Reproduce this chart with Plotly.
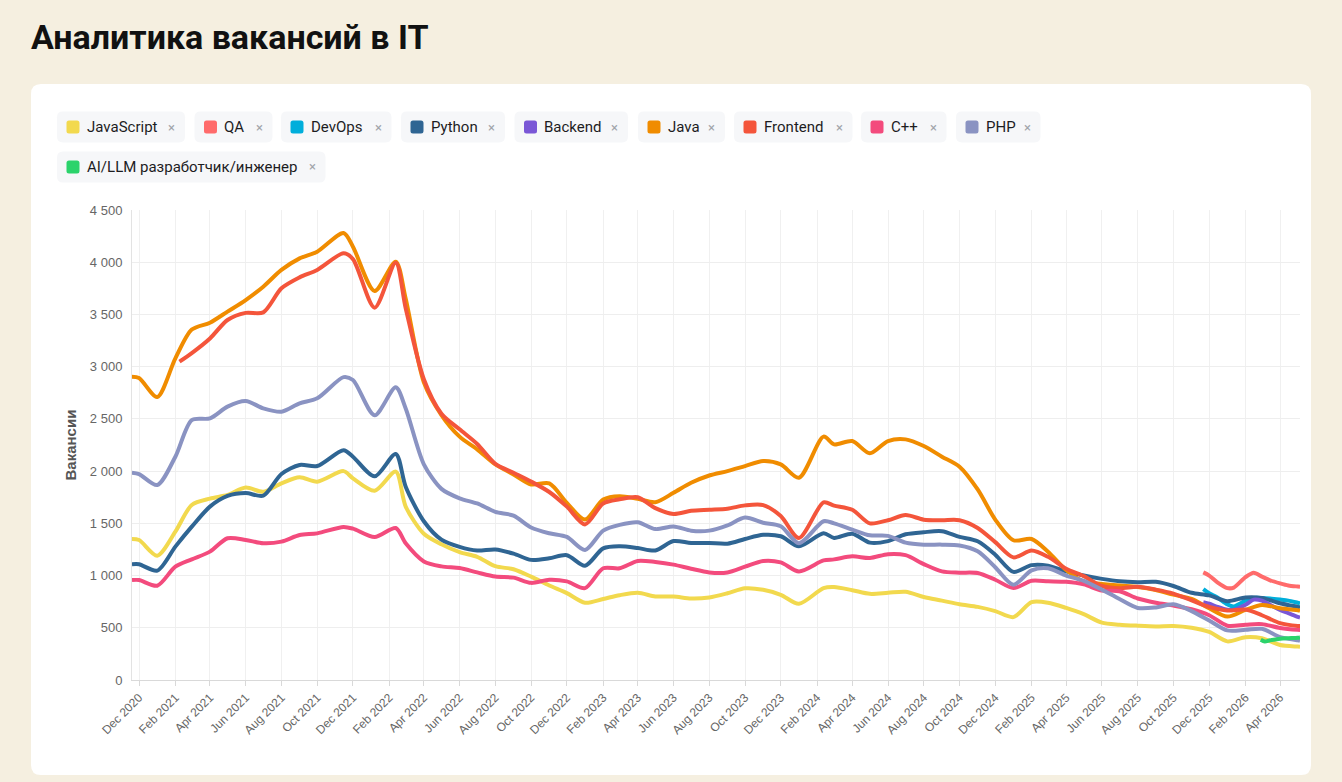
import pandas as pd
import plotly.graph_objects as go

# monthly points (1st of month, a few moved to the peak dates) plus first and last day
moved = {"2021-11-01": "2021-11-15", "2022-01-01": "2022-01-07",
         "2022-02-01": "2022-02-12", "2024-02-01": "2024-02-12"}
DATES = (["2020-11-19"]
         + [moved.get(s, s) for s in
            (d.strftime("%Y-%m-%d") for d in pd.date_range("2020-12-01", "2026-05-01", freq="MS"))]
         + ["2026-05-05"])

javascript = [1350, 1340, 1190, 1420, 1676, 1736, 1771, 1842, 1803, 1883, 1941, 1899, 2000, 1931,
              1812, 1995, 1660, 1400, 1300, 1225, 1180, 1090, 1060, 990, 905, 832, 740, 776, 812,
              835, 800, 800, 780, 790, 830, 878, 864, 816, 730, 880, 890, 860, 825, 835, 845, 795,
              760, 725, 700, 660, 602, 745, 740, 690, 630, 549, 530, 520, 513, 517, 500, 460, 370,
              410, 400, 335, 320, 318]
python = [1108, 1108, 1047, 1277, 1468, 1660, 1762, 1790, 1765, 1972, 2059, 2049, 2200, 2138,
          1950, 2164, 1851, 1520, 1344, 1275, 1240, 1250, 1210, 1150, 1165, 1195, 1094, 1260,
          1280, 1264, 1240, 1330, 1312, 1312, 1305, 1350, 1390, 1376, 1280, 1405, 1360, 1400,
          1315, 1330, 1395, 1415, 1424, 1370, 1328, 1200, 1035, 1100, 1095, 1040, 1000, 968, 945,
          937, 940, 900, 835, 810, 755, 790, 785, 735, 700, 695]
java = [2904, 2892, 2710, 3080, 3355, 3421, 3527, 3638, 3766, 3926, 4037, 4101, 4280, 4149,
        3725, 4005, 3650, 2850, 2537, 2330, 2208, 2064, 1968, 1872, 1882, 1696, 1536, 1728, 1760,
        1734, 1702, 1792, 1888, 1958, 2000, 2048, 2096, 2064, 1936, 2330, 2256, 2288, 2170, 2288,
        2304, 2240, 2138, 2042, 1824, 1536, 1338, 1350, 1229, 1053, 942, 920, 904, 891, 862, 817,
        776, 687, 607, 671, 718, 687, 668, 665]
cpp = [957, 957, 903, 1085, 1155, 1229, 1357, 1341, 1309, 1325, 1388, 1404, 1466, 1449, 1368,
       1455, 1309, 1135, 1088, 1072, 1030, 990, 980, 930, 960, 944, 880, 1070, 1070, 1140, 1130,
       1105, 1065, 1030, 1030, 1085, 1140, 1126, 1040, 1145, 1155, 1184, 1168, 1205, 1195, 1110,
       1040, 1028, 1024, 960, 880, 950, 945, 940, 915, 856, 850, 780, 740, 712, 677, 620, 520, 530,
       535, 498, 480, 479]
php = [1985, 1972, 1867, 2138, 2489, 2505, 2617, 2671, 2601, 2569, 2649, 2697, 2900, 2872, 2535,
       2802, 2600, 2065, 1830, 1740, 1690, 1610, 1574, 1460, 1405, 1370, 1245, 1430, 1485, 1510,
       1445, 1470, 1430, 1430, 1480, 1555, 1505, 1472, 1310, 1520, 1500, 1440, 1385, 1380, 1315,
       1296, 1296, 1288, 1232, 1080, 912, 1050, 1070, 1000, 950, 865, 775, 690, 695, 725, 660, 570,
       475, 480, 490, 410, 380, 377]

# Frontend starts in February 2021
frontend_dates = ["2021-02-08"] + DATES[4:]
frontend = [3048, 3130, 3270, 3447, 3515, 3520, 3750, 3855, 3926, 4085, 4030, 3565, 3995, 3560,
            2880, 2550, 2400, 2260, 2070, 1984, 1900, 1800, 1660, 1490, 1690, 1730, 1750, 1645,
            1590, 1620, 1630, 1640, 1672, 1675, 1570, 1360, 1700, 1670, 1630, 1500, 1530, 1580,
            1535, 1530, 1530, 1456, 1320, 1174, 1240, 1180, 1065, 995, 900, 878, 892, 865, 827,
            762, 700, 666, 675, 620, 545, 518, 517]

# short series, half-monthly points
late_dates = ["2025-11-21", "2025-12-01", "2025-12-15", "2026-01-01", "2026-01-12", "2026-02-01",
              "2026-02-15", "2026-03-01", "2026-03-15", "2026-04-01", "2026-04-15", "2026-05-01",
              "2026-05-05"]
qa = [1030, 1000, 935, 880, 885, 985, 1027, 990, 955, 925, 905, 895, 893]
devops = [870, 830, 790, 725, 705, 760, 785, 785, 780, 770, 760, 740, 735]
backend = [745, 730, 700, 672, 672, 720, 770, 760, 720, 670, 640, 605, 598]

ai_dates = ["2026-02-27", "2026-03-06", "2026-03-15", "2026-04-01", "2026-04-15", "2026-05-01",
            "2026-05-05"]
ai_llm = [385, 368, 380, 395, 400, 405, 408]

series = [
    ("JavaScript", DATES, javascript, "#F2D94E"),
    ("QA", late_dates, qa, "#FF6B6B"),
    ("DevOps", late_dates, devops, "#00AEDB"),
    ("Python", DATES, python, "#2F6593"),
    ("Backend", late_dates, backend, "#7A57D6"),
    ("Java", DATES, java, "#F08C00"),
    ("Frontend", frontend_dates, frontend, "#F4553B"),
    ("C++", DATES, cpp, "#F34B7D"),
    ("PHP", DATES, php, "#8A93C2"),
    ("AI/LLM разработчик/инженер", ai_dates, ai_llm, "#2BD36B"),
]

# pixel geometry of the page
W, H = 1342, 782
L, R, T, B = 132, 1300, 210, 680


def px(x):
    return (x - L) / (R - L)


def py(y):
    return (B - y) / (B - T)


def round_rect(x0, y0, x1, y1, r):
    pts = [
        ("M", x0 + r, y0), ("L", x1 - r, y0), ("Q", x1, y0, x1, y0 + r),
        ("L", x1, y1 - r), ("Q", x1, y1, x1 - r, y1), ("L", x0 + r, y1),
        ("Q", x0, y1, x0, y1 - r), ("L", x0, y0 + r), ("Q", x0, y0, x0 + r, y0),
    ]
    out = []
    for p in pts:
        cmd, vals = p[0], p[1:]
        coords = []
        for i in range(0, len(vals), 2):
            coords.append(f"{px(vals[i]):.5f},{py(vals[i + 1]):.5f}")
        out.append(cmd + " ".join(coords))
    return " ".join(out) + " Z"


fig = go.Figure()
for name, xs, ys, color in series:
    fig.add_trace(go.Scatter(x=xs, y=ys, name=name, mode="lines",
                             line=dict(color=color, width=4, shape="spline", smoothing=0.8)))

shapes = [dict(type="path", xref="paper", yref="paper", layer="below",
               path=round_rect(31, 84, 1311, 775, 10), fillcolor="white", line=dict(width=0))]
annotations = []

# chip legend
chips = [(57, 185, 0), (194.5, 272.5, 0), (281, 391.5, 0), (401, 505, 0), (514.5, 628, 0),
         (638, 725, 0), (734, 852.5, 0), (861, 946.5, 0), (956, 1040.5, 0), (57, 325.5, 1)]
for (name, _, _, color), (c0, c1, row) in zip(series, chips):
    y0 = 111.5 + row * 40
    y1 = y0 + 31
    yc = (y0 + y1) / 2
    shapes.append(dict(type="path", xref="paper", yref="paper", layer="below",
                       path=round_rect(c0, y0, c1, y1, 6), fillcolor="#F6F7F9", line=dict(width=0)))
    shapes.append(dict(type="path", xref="paper", yref="paper",
                       path=round_rect(c0 + 9.5, yc - 6.5, c0 + 22.5, yc + 6.5, 2.5),
                       fillcolor=color, line=dict(width=0)))
    annotations.append(dict(text=name, xref="paper", yref="paper", x=px(c0 + 27.5), y=py(yc),
                            xanchor="left", yanchor="middle", showarrow=False,
                            font=dict(family="Roboto", size=15, color="#1d1d1f")))
    annotations.append(dict(text="×", xref="paper", yref="paper", x=px(c1 - 13.5), y=py(yc),
                            xanchor="center", yanchor="middle", showarrow=False,
                            font=dict(family="Roboto", size=13, color="#a0a4aa")))

annotations.append(dict(text="<b>Аналитика вакансий в IT</b>", xref="paper", yref="paper",
                        x=px(29), y=py(37), xanchor="left", yanchor="middle", showarrow=False,
                        font=dict(family="Roboto", size=34, color="#111111")))
annotations.append(dict(text="<b>Вакансии</b>", xref="paper", yref="paper", x=px(69.5), y=0.5,
                        xanchor="center", yanchor="middle", textangle=-90, showarrow=False,
                        font=dict(family="Arial", size=15, color="#555555")))

fig.update_layout(
    width=W, height=H,
    margin=dict(l=L, r=W - R, t=T, b=H - B),
    paper_bgcolor="#F5EFE0", plot_bgcolor="rgba(0,0,0,0)",
    showlegend=False, separators=", ",
    font=dict(family="Arial", color="#666666"),
    shapes=shapes, annotations=annotations,
    hovermode="x unified",
)
fig.update_xaxes(type="date", range=["2020-11-19", "2026-05-05"], dtick="M2", tick0="2020-12-01",
                 tickformat="%b %Y", tickangle=-45, showgrid=True, gridcolor="#f0f0f0",
                 showline=True, linecolor="#d9d9d9", ticks="outside", ticklen=5,
                 tickcolor="#d9d9d9", tickfont=dict(size=12, color="#666666"))
fig.update_yaxes(range=[0, 4500], dtick=500, showgrid=True, gridcolor="#eeeeee", zeroline=False,
                 showline=True, linecolor="#e3e3e3", separatethousands=True, tickformat=",d",
                 ticklabelstandoff=6, tickfont=dict(size=13, color="#666666"))

# the page's default body margin would shift the figure by 8px
fig.write_html("out.html", config={"displayModeBar": False},
               post_script="document.body.style.margin='0';")
